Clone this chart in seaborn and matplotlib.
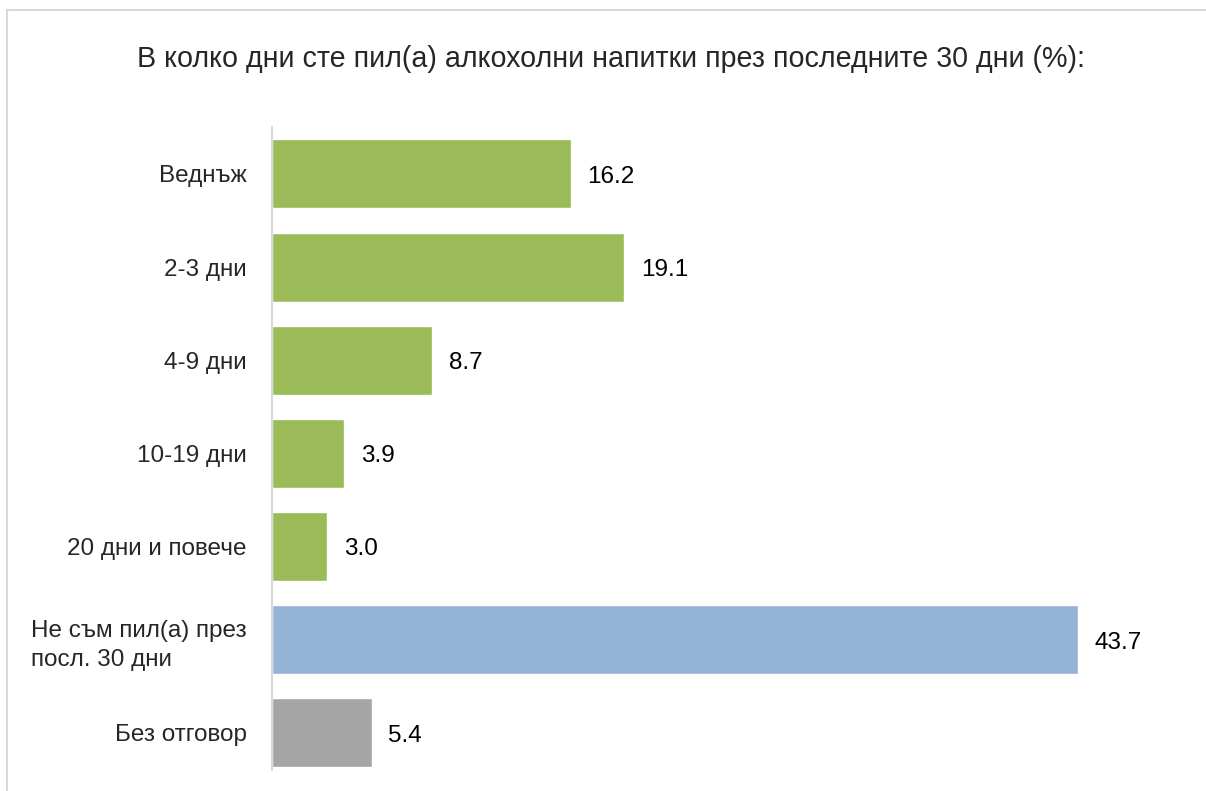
import pandas as pd
import matplotlib.pyplot as plt
import matplotlib.lines as mlines
import seaborn as sns

# data
categories = ["Веднъж", "2-3 дни", "4-9 дни", "10-19 дни", "20 дни и повече",
              "Не съм пил(а) през\nпосл. 30 дни", "Без отговор"]
values = [16.2, 19.1, 8.7, 3.9, 3.0, 43.7, 5.4]
colors = ["#9BBB59", "#9BBB59", "#9BBB59", "#9BBB59", "#9BBB59", "#95B3D7", "#A5A5A5"]

df = pd.DataFrame({"cat": categories, "val": values})

sns.set_style("white")
plt.rcParams['font.family'] = ['Liberation Sans', 'DejaVu Sans']

fig = plt.figure(figsize=(12.06, 7.91), dpi=100)
ax = fig.add_axes([0.2255, 0.0145, 0.765, 0.8245])

sns.barplot(data=df, y="cat", x="val", hue="cat", palette=colors, legend=False,
            width=0.74, saturation=1, ax=ax)

for i, v in enumerate(values):
    ax.annotate(f"{v:.1f}", (v, i), xytext=(12, -2), textcoords="offset points",
                va="center", ha="left", fontsize=17.5, color="black")

ax.set_xlim(0, 50)
ax.set_ylim(6.5, -0.5)
ax.set_xlabel("")
ax.set_ylabel("")
ax.set_xticks([])
ax.tick_params(axis="y", length=0, pad=18, labelsize=17.5)
for s in ["top", "right", "bottom"]:
    ax.spines[s].set_visible(False)
ax.spines["left"].set_color("#D9D9D9")
ax.spines["left"].set_linewidth(1.5)
ax.spines["left"].set_bounds(6.4, -0.5)
for lab in ax.get_yticklabels():
    lab.set_horizontalalignment("right")
    lab.set_multialignment("left")
    lab.set_linespacing(1.4)

fig.text(0.507, 0.926, "В колко дни сте пил(а) алкохолни напитки през последните 30 дни (%):",
         ha="center", va="center", fontsize=20.6)

# light border of the chart area (only top and left visible)
fig.add_artist(mlines.Line2D([0.006, 0.006], [0, 0.987], color="#D9D9D9", lw=1.5))
fig.add_artist(mlines.Line2D([0.006, 1], [0.987, 0.987], color="#D9D9D9", lw=1.5))

fig.savefig("out.png", dpi=100)
